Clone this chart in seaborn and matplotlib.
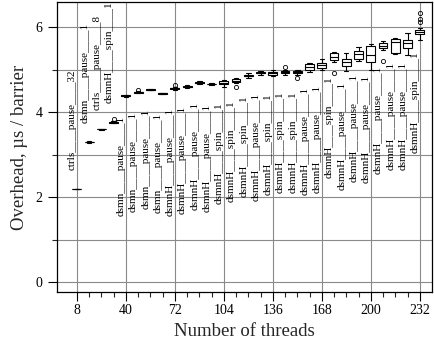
import matplotlib
matplotlib.use("Agg")
import matplotlib.pyplot as plt
import numpy as np
import pandas as pd
import seaborn as sns
from matplotlib.ticker import FixedLocator

# ---------------- data ----------------
threads = list(range(8, 233, 8))

config_names = [
    "ctrls__pause__32", "dsmn__pause__1", "ctrls__pause__8", "dsmnH__spin__1",
    "dsmn__pause__1", "dsmn__pause__1", "dsmn__pause__1", "dsmn__pause__1",
    "dsmnH__pause__1", "dsmnH__pause__1", "dsmnH__pause__1", "dsmnH__pause__1",
    "dsmnH__spin__1", "dsmnH__spin__1", "dsmnH__spin__1", "dsmnH__pause__1",
    "dsmnH__spin__1", "dsmnH__spin__1", "dsmnH__spin__1", "dsmnH__pause__1",
    "dsmnH__pause__1", "dsmnH__spin__1", "dsmnH__pause__1", "dsmnH__pause__1",
    "dsmnH__pause__1", "dsmnH__pause__1", "dsmnH__pause__1", "dsmnH__pause__1",
    "dsmnH__spin__1",
]

whisker_low = [2.18, 3.28, 3.58, 3.74, 4.36, 4.45, 4.51, 4.42, 4.53, 4.57,
               4.66, 4.63, 4.60, 4.68, 4.80, 4.88, 4.84, 4.88, 4.88, 4.94,
               4.98, 5.18, 4.96, 5.21, 5.00, 5.46, 5.36, 5.34, 5.70]
quart_1 = [2.19, 3.29, 3.59, 3.75, 4.37, 4.46, 4.52, 4.43, 4.55, 4.59,
           4.68, 4.65, 4.65, 4.71, 4.84, 4.91, 4.88, 4.92, 4.92, 4.99,
           5.03, 5.22, 5.08, 5.26, 5.18, 5.50, 5.40, 5.50, 5.83]
median = [2.19, 3.29, 3.59, 3.76, 4.38, 4.47, 4.53, 4.44, 4.56, 4.60,
          4.69, 4.66, 4.69, 4.74, 4.86, 4.92, 4.91, 4.94, 4.94, 5.06,
          5.10, 5.30, 5.17, 5.36, 5.34, 5.55, 5.65, 5.63, 5.89]
quart_3 = [2.20, 3.30, 3.60, 3.77, 4.39, 4.48, 4.54, 4.45, 4.57, 4.61,
           4.71, 4.67, 4.73, 4.77, 4.88, 4.94, 4.95, 4.96, 4.97, 5.12,
           5.16, 5.38, 5.26, 5.44, 5.56, 5.63, 5.71, 5.69, 5.94]
whisker_high = [2.20, 3.31, 3.61, 3.79, 4.40, 4.49, 4.55, 4.46, 4.59, 4.63,
                4.72, 4.69, 4.76, 4.80, 4.92, 4.96, 4.98, 4.99, 5.00, 5.16,
                5.24, 5.42, 5.38, 5.54, 5.61, 5.68, 5.75, 5.85, 5.97]
outliers = [[], [], [], [3.83], [], [4.53], [], [], [4.64], [],
            [], [], [], [4.60], [], [], [], [5.05], [4.79], [],
            [], [4.93], [], [], [], [5.20], [], [], [6.12, 6.20, 6.32]]

x_major_ticks = [8, 40, 72, 104, 136, 168, 200, 232]
y_major_ticks = [0, 2, 4, 6]
y_minor_ticks = [1, 3, 5]

# samples reproducing the read quartiles / whiskers / outliers
REP = 20
rows = []
for t, lo, a, m, b, hi, fl in zip(threads, whisker_low, quart_1, median,
                                  quart_3, whisker_high, outliers):
    vals = [lo] + [a] * REP + [m] * REP + [b] * REP + [hi] + list(fl)
    rows += [(t, v) for v in vals]
df = pd.DataFrame(rows, columns=["threads", "overhead"])

# ---------------- style ----------------
sns.set_style("ticks")
plt.rcParams["font.family"] = ["Liberation Serif", "DejaVu Serif"]
plt.rcParams["axes.edgecolor"] = "black"
plt.rcParams["axes.linewidth"] = 0.9

fig = plt.figure(figsize=(4.34, 3.52), dpi=100)
ax = fig.add_axes([57 / 434, 60 / 352, 375 / 434, 290 / 352])

sns.boxplot(data=df, x="threads", y="overhead", native_scale=True,
            color="white", linecolor="black", linewidth=0.8, width=0.72,
            fliersize=3,
            flierprops=dict(marker="o", markerfacecolor="none",
                            markeredgecolor="black", markeredgewidth=0.6),
            ax=ax)

ax.set_xlim(-5, 240)
ax.set_ylim(-0.235, 6.59)

ax.xaxis.set_major_locator(FixedLocator(x_major_ticks))
ax.xaxis.set_minor_locator(FixedLocator(threads))
ax.set_xticklabels([str(t) for t in x_major_ticks])
ax.set_yticks(y_major_ticks)
ax.set_yticks(y_minor_ticks, minor=True)
ax.tick_params(which="major", direction="out", length=6.5, width=0.8,
               labelsize=10, colors="black")
ax.tick_params(axis="x", which="major", pad=2.5)
ax.tick_params(axis="y", which="major", pad=4)
ax.tick_params(which="minor", direction="out", length=3.5, width=0.8)

ax.grid(True, axis="x", which="major", color="#8a8a8a", linewidth=0.8)
ax.grid(True, axis="y", which="both", color="#8a8a8a", linewidth=0.8)
ax.set_axisbelow(True)
for s in ax.spines.values():
    s.set_visible(True)
    s.set_color("black")

# configuration labels
n_above = 4
for i, (t, name, m) in enumerate(zip(threads, config_names, median)):
    txt = name.replace("__", "____")
    if i < n_above:
        ax.text(t, m + 0.45, txt, rotation=90, ha="right", va="bottom",
                fontsize=8, color="black")
    else:
        ax.text(t, m - 0.46, txt, rotation=90, ha="right", va="top",
                fontsize=8, color="black")

ax.set_xlabel("Number of threads", fontsize=13.5, labelpad=4)
ax.set_ylabel("Overhead, µs / barrier", fontsize=13.5, labelpad=5)

fig.savefig("out.png", dpi=100)
